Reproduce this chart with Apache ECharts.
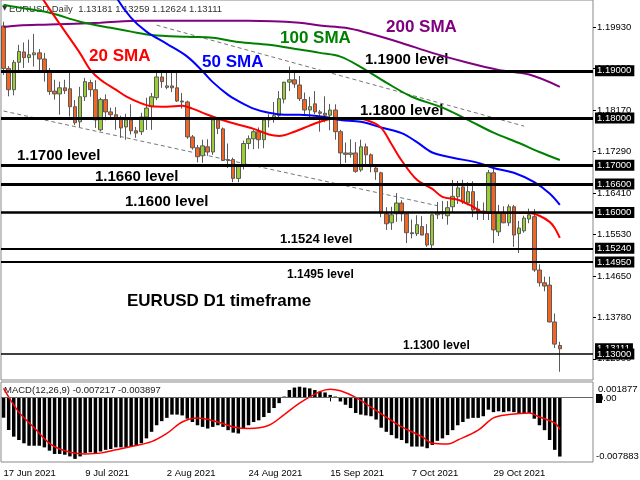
<!DOCTYPE html>
<html><head><meta charset="utf-8">
<script src="https://cdn.jsdelivr.net/npm/echarts@6/dist/echarts.min.js"></script>
<style>html,body{margin:0;padding:0;background:#fff}#c{width:640px;height:480px}</style>
</head><body><div id="c"></div>
<script>
// ---- data ----
const opens = [1.1995,1.1905,1.1860,1.1918,1.1940,1.1928,1.1934,1.1938,1.1925,1.1898,
1.1857,1.1851,1.1864,1.1862,1.1824,1.1792,1.1845,1.1875,1.1860,1.1775,
1.1839,1.1813,1.1807,1.1800,1.1781,1.1796,1.1773,1.1771,1.1802,1.1824,
1.1843,1.1887,1.1865,1.1868,1.1864,1.1836,1.1834,1.1760,1.1737,1.1720,
1.1739,1.1728,1.1796,1.1777,1.1710,1.1712,1.1672,1.1699,1.1746,1.1756,
1.1771,1.1754,1.1796,1.1797,1.1805,1.1840,1.1876,1.1881,1.1870,1.1839,
1.1817,1.1830,1.1813,1.1810,1.1806,1.1817,1.1771,1.1726,1.1723,1.1726,
1.1690,1.1739,1.1722,1.1694,1.1684,1.1597,1.1578,1.1597,1.1620,1.1597,
1.1557,1.1555,1.1570,1.1555,1.1531,1.1595,1.1601,1.1593,1.1612,1.1633,
1.1654,1.1620,1.1644,1.1607,1.1601,1.1600,1.1684,1.1559,1.1599,1.1578,
1.1612,1.1555,1.1561,1.1586,1.1591,1.1478,1.1451,1.1446,1.1368,1.13181];
const highs = [1.2004,1.1910,1.1923,1.1955,1.1960,1.1966,1.1978,1.1946,1.1938,1.1906,
1.1881,1.1877,1.1881,1.1896,1.1838,1.1866,1.1885,1.1881,1.1880,1.1843,
1.1850,1.1822,1.1823,1.1805,1.1809,1.1829,1.1781,1.1811,1.1843,1.1853,
1.1902,1.1902,1.1898,1.1898,1.1900,1.1853,1.1837,1.1764,1.1743,1.1754,
1.1755,1.1802,1.1800,1.1780,1.1746,1.1716,1.1702,1.1752,1.1763,1.1775,
1.1780,1.1802,1.1808,1.1834,1.1857,1.1874,1.1909,1.1896,1.1889,1.1854,
1.1845,1.1857,1.1817,1.1846,1.1830,1.1829,1.1775,1.1748,1.1755,1.1749,
1.1754,1.1746,1.1725,1.1702,1.1686,1.1611,1.1612,1.1641,1.1626,1.1601,
1.1585,1.1594,1.1592,1.1575,1.1596,1.1622,1.1624,1.1624,1.1669,1.1667,
1.1669,1.1664,1.1666,1.1624,1.1621,1.1690,1.1692,1.1616,1.1613,1.1617,
1.1616,1.1582,1.1593,1.1608,1.1607,1.1490,1.1464,1.1464,1.1386,1.13259];
const lows = [1.1891,1.1846,1.1848,1.1895,1.1906,1.1917,1.1909,1.1900,1.1877,1.1849,
1.1839,1.1807,1.1851,1.1803,1.1785,1.1781,1.1836,1.1845,1.1779,1.1772,
1.1795,1.1800,1.1775,1.1758,1.1754,1.1765,1.1758,1.1764,1.1775,1.1775,
1.1838,1.1864,1.1861,1.1855,1.1834,1.1820,1.1756,1.1733,1.1706,1.1705,
1.1720,1.1722,1.1766,1.1709,1.1694,1.1664,1.1664,1.1691,1.1734,1.1734,
1.1735,1.1736,1.1780,1.1790,1.1801,1.1831,1.1857,1.1864,1.1836,1.1806,
1.1802,1.1808,1.1771,1.1791,1.1774,1.1754,1.1700,1.1705,1.1716,1.1684,
1.1686,1.1699,1.1685,1.1669,1.1590,1.1563,1.1563,1.1580,1.1581,1.1535,
1.1545,1.1550,1.1553,1.1527,1.1524,1.1586,1.1586,1.1574,1.1601,1.1618,
1.1618,1.1615,1.1590,1.1584,1.1584,1.1584,1.1535,1.1550,1.1577,1.1571,
1.1527,1.1514,1.1557,1.1577,1.1474,1.1443,1.1433,1.1367,1.1313,1.12624];
const closes = [1.1905,1.1860,1.1918,1.1941,1.1928,1.1934,1.1938,1.1925,1.1898,1.1856,
1.1851,1.1864,1.1858,1.1824,1.1790,1.1845,1.1877,1.1860,1.1796,1.1839,
1.1813,1.1807,1.1798,1.1779,1.1796,1.1773,1.1768,1.1802,1.1821,1.1845,
1.1887,1.1877,1.1868,1.1864,1.1836,1.1834,1.1760,1.1737,1.1718,1.1741,
1.1728,1.1796,1.1778,1.1710,1.1712,1.1672,1.1699,1.1746,1.1756,1.1771,
1.1754,1.1796,1.1797,1.1805,1.1841,1.1876,1.1881,1.1872,1.1841,1.1817,
1.1824,1.1813,1.1810,1.1806,1.1817,1.1771,1.1726,1.1723,1.1726,1.1687,
1.1739,1.1722,1.1697,1.1686,1.1599,1.1576,1.1595,1.1620,1.1597,1.1557,
1.1555,1.1574,1.1552,1.1531,1.1595,1.1599,1.1597,1.1610,1.1634,1.1652,
1.1622,1.1644,1.1605,1.1601,1.1603,1.1684,1.1563,1.1599,1.1578,1.1612,
1.1552,1.1567,1.1588,1.1595,1.1478,1.1451,1.1444,1.1368,1.1321,1.13111];

// moving averages, read as [bar index, value]
const sma20 = [[0,1.2165],[4,1.2115],[8,1.2047],[12,1.1984],[15,1.1937],[17,1.1902],[19,1.1881],[22,1.1860],[24,1.1846],[27,1.1831],[29,1.1825],[32,1.1824],[35,1.1826],[37,1.1820],[40,1.1807],[44,1.1792],[49,1.1777],[52,1.1765],[54,1.1762],[57,1.1771],[60,1.1784],[62,1.1792],[64,1.1798],[69,1.1800],[72,1.1792],[74,1.1779],[76,1.1745],[78,1.1710],[81,1.1669],[84,1.1650],[86,1.1633],[89,1.1627],[92,1.1612],[94,1.1600],[96,1.1599],[103,1.1599],[105,1.1593],[107,1.1580],[108,1.1567],[109,1.1546]];
const sma50 = [[20,1.2110],[22,1.2058],[25,1.2012],[28,1.1983],[32,1.1957],[36,1.1930],[39,1.1899],[41,1.1876],[44,1.1849],[46,1.1836],[49,1.1820],[52,1.1811],[55,1.1807],[58,1.1807],[63,1.1802],[66,1.1796],[70,1.1792],[74,1.1780],[78,1.1768],[81,1.1749],[84,1.1727],[88,1.1716],[93,1.1705],[96,1.1694],[100,1.1684],[104,1.1664],[107,1.1640],[109,1.1616]];
const sma100 = [[0,1.2040],[3,1.2034],[9,1.2023],[15,1.2004],[21,1.1991],[25,1.1983],[29,1.1976],[36,1.1972],[41,1.1970],[46,1.1961],[52,1.1955],[58,1.1945],[62,1.1938],[66,1.1930],[70,1.1908],[75,1.1875],[80,1.1845],[86,1.1822],[91,1.1796],[96,1.1769],[101,1.1747],[105,1.1728],[109,1.1711]];
const sma200 = [[0,1.1993],[3,1.1996],[9,1.1998],[19,1.2002],[27,1.2006],[39,1.2006],[48,1.2006],[58,1.2002],[62,1.1996],[67,1.1991],[71,1.1981],[78,1.1959],[84,1.1938],[91,1.1917],[97,1.1902],[103,1.1892],[109,1.1866]];

// trend lines [bar index, price]
const trendUpper = [[30,1.19967],[102,1.17828]];
const trendLower = [[0,1.18148],[85,1.16142]];

// horizontal levels and their widths (style)
const levels = [1.19, 1.18, 1.17, 1.166, 1.16, 1.1524, 1.1495, 1.13];
const levelWidths = [3, 3, 3, 3, 2.5, 2, 2, 1.5];
const lastPrice = 1.13111;

// MACD main (histogram) and signal
const macdHist = [-0.00248,-0.00398,-0.00479,-0.0052,-0.0056,-0.0059,-0.0059,-0.0059,-0.0061,-0.0065,
-0.0069,-0.0069,-0.0070,-0.0072,-0.0075,-0.0072,-0.0068,-0.0067,-0.0068,-0.0066,
-0.0064,-0.0063,-0.0061,-0.0061,-0.0061,-0.0060,-0.0059,-0.0056,-0.0050,-0.0042,
-0.0034,-0.0029,-0.0025,-0.0021,-0.0021,-0.0022,-0.0026,-0.0030,-0.0034,-0.0036,
-0.0038,-0.0036,-0.0034,-0.0036,-0.0040,-0.0043,-0.0044,-0.0038,-0.0034,-0.0030,
-0.0028,-0.0024,-0.0019,-0.0013,-0.0007,0.0001,0.0009,0.0012,0.0013,0.0012,
0.0011,0.0009,0.0007,0.0006,0.0003,0.0001,-0.0005,-0.0009,-0.0013,-0.0019,
-0.0021,-0.0022,-0.0023,-0.0027,-0.0037,-0.0042,-0.0046,-0.0050,-0.0052,-0.0056,
-0.0060,-0.0060,-0.0060,-0.0062,-0.0058,-0.0053,-0.0050,-0.0046,-0.0040,-0.0034,
-0.0030,-0.0026,-0.0025,-0.0025,-0.0023,-0.0015,-0.0018,-0.0017,-0.0018,-0.0017,
-0.0018,-0.0020,-0.0019,-0.0019,-0.0026,-0.0034,-0.0040,-0.0052,-0.0064,-0.007217];
const macdSignal = [[0,0.0011],[3,-0.0018],[6,-0.0037],[9,-0.0056],[12,-0.0065],[16,-0.0069],[19,-0.0068],[22,-0.0064],[25,-0.0060],[29,-0.0054],[32,-0.0044],[35,-0.0030],[38,-0.0025],[42,-0.0030],[45,-0.0036],[48,-0.0038],[52,-0.0034],[55,-0.0021],[58,-0.0007],[62,0.0007],[64,0.0010],[66,0.0008],[69,0.0000],[72,-0.0012],[75,-0.0024],[78,-0.0036],[82,-0.0048],[84,-0.0056],[87,-0.0057],[89,-0.0052],[93,-0.0040],[96,-0.0025],[99,-0.0021],[103,-0.0019],[105,-0.0024],[108,-0.0031],[109,-0.0039]];

// axis tick labels
const xTickLabels = ['17 Jun 2021','9 Jul 2021','2 Aug 2021','24 Aug 2021','15 Sep 2021','7 Oct 2021','29 Oct 2021'];
const priceTicks = [1.1993,1.1905,1.1817,1.1729,1.1641,1.1553,1.1465,1.1378,1.1290];
const macdMax = 0.001877, macdMin = -0.007883;

// trading-day categories (weekdays from 17 Jun 2021, incl. empty right margin)
const months = ['Jan','Feb','Mar','Apr','May','Jun','Jul','Aug','Sep','Oct','Nov','Dec'];
const categories = [];
(function(){ const d = new Date(2021,5,17);
  while (categories.length < 116) { const w = d.getDay();
    if (w !== 0 && w !== 6) categories.push(d.getDate()+' '+months[d.getMonth()]+' '+d.getFullYear());
    d.setDate(d.getDate()+1); } })();

const candles = opens.map((o,i)=>[o, closes[i], lows[i], highs[i]]);

function boxLabel(v){
  return {show:true, position:'end', distance:2, color:'#fff', backgroundColor:'#000',
    padding:[1,3,0,2], fontSize:9.5, fontFamily:'Liberation Sans', formatter:()=>v.toFixed(5)};
}
// one helper series per level, each carrying its own markLine
function levelSeries(v, w, hidden){
  return {type:'line', name:'L'+v, xAxisIndex:0, yAxisIndex:0, data:[], z:hidden?5:6,
    markLine:{silent:true, symbol:['none','none'], animation:false, precision:5,
      data:[{yAxis:v, lineStyle:{color:hidden?'rgba(0,0,0,0)':'#000', width:w, type:'solid'}, label:boxLabel(v)}]}};
}

function txt(t, x, y, size, color, bold){
  return {type:'text', z:0, x:x, y:y, silent:true,
    style:{text:t, fill:color, font:(bold?'bold ':'')+size+'px "Liberation Sans", Arial, sans-serif', verticalAlign:'middle'}};
}

const series = [
  {type:'candlestick', name:'EURUSD', xAxisIndex:0, yAxisIndex:0, data:candles, barWidth:4,
    itemStyle:{color:'#9acd32', color0:'#f26522', borderColor:'#5a5a5a', borderColor0:'#5a5a5a', borderWidth:1}, z:3},
  {type:'line', name:'trendU', data:trendUpper, symbol:'none', xAxisIndex:0, yAxisIndex:0,
    lineStyle:{color:'#777', width:1, type:[4,3]}, z:2},
  {type:'line', name:'trendL', data:trendLower, symbol:'none', xAxisIndex:0, yAxisIndex:0,
    lineStyle:{color:'#777', width:1, type:[4,3]}, z:2},
  {type:'line', name:'SMA200', data:sma200, symbol:'none', smooth:0.35, lineStyle:{color:'#800080', width:2}, z:4},
  {type:'line', name:'SMA100', data:sma100, symbol:'none', smooth:0.35, lineStyle:{color:'#008000', width:2}, z:4},
  {type:'line', name:'SMA50', data:sma50, symbol:'none', smooth:0.35, lineStyle:{color:'#0000ff', width:2}, z:4},
  {type:'line', name:'SMA20', data:sma20, symbol:'none', smooth:0.35, lineStyle:{color:'#ff0000', width:2}, z:4},
  {type:'bar', name:'MACD', xAxisIndex:1, yAxisIndex:1, data:macdHist, barWidth:'68%',
    itemStyle:{color:'#000'},
    markLine:{silent:true, symbol:['none','none'], label:{show:false},
      data:[{yAxis:0, lineStyle:{color:'#666', width:1, type:'solid'}}]}},
  {type:'line', name:'Signal', xAxisIndex:1, yAxisIndex:1, data:macdSignal, symbol:'none', smooth:0.35,
    lineStyle:{color:'#ff0000', width:1.5}, z:4},
  levelSeries(lastPrice, 1, true)
];
levels.forEach((v,i)=> series.push(levelSeries(v, levelWidths[i], false)));

const chart = echarts.init(document.getElementById('c'), null, {renderer:'canvas'});
chart.setOption({
  animation:false,
  backgroundColor:'#fff',
  textStyle:{fontFamily:'Liberation Sans'},
  grid:[
    {left:1, right:47, top:0, height:380, show:true, borderColor:'#888', borderWidth:1},
    {left:1, right:47, top:382, height:80, show:true, borderColor:'#888', borderWidth:1}
  ],
  xAxis:[
    {type:'category', gridIndex:0, data:categories, boundaryGap:true, show:false},
    {type:'category', gridIndex:1, data:categories, boundaryGap:true,
      axisLine:{show:false},
      axisTick:{show:true, alignWithLabel:true, length:4, lineStyle:{color:'#000'},
        interval:(i)=> i%16===0 && i/16 < xTickLabels.length},
      axisLabel:{show:true, align:'left', margin:6, fontSize:9.5, color:'#000',
        interval:(i)=> i%16===0 && i/16 < xTickLabels.length,
        formatter:(v,i)=> xTickLabels[i/16] || ''}}
  ],
  yAxis:[
    {type:'value', gridIndex:0, position:'right', min:1.1245, max:1.2050, scale:true,
      splitLine:{show:false}, axisLine:{show:false},
      axisTick:{show:true, length:3, lineStyle:{color:'#000'}, customValues:priceTicks},
      axisLabel:{show:true, fontSize:9.5, color:'#000', margin:4, customValues:priceTicks,
        formatter:(v)=> v.toFixed(5)}},
    {type:'value', gridIndex:1, position:'right', min:macdMin, max:macdMax,
      splitLine:{show:false}, axisLine:{show:false}, axisTick:{show:false}, axisLabel:{show:false}}
  ],
  series: series,
  graphic:[
    {type:'text', z:0, x:2, y:8, silent:true, style:{text:'\u25BC', fill:'#333', font:'7px "DejaVu Sans"', verticalAlign:'middle'}},
    txt('EURUSD,Daily  1.13181 1.13259 1.12624 1.13111', 9, 9, 9.5, '#333', false),
    txt('MACD(12,26,9) -0.007217 -0.003897', 4, 390, 9.5, '#222', false),
    txt('20 SMA', 89, 56, 17, '#ff0000', true),
    txt('50 SMA', 202, 62, 17, '#0000ff', true),
    txt('100 SMA', 280, 38, 17, '#008000', true),
    txt('200 SMA', 386, 27, 17, '#800080', true),
    txt('1.1900 level', 365, 60, 15, '#000', true),
    txt('1.1800 level', 360, 111, 15, '#000', true),
    txt('1.1700 level', 17, 156, 15, '#000', true),
    txt('1.1660 level', 95, 177, 15, '#000', true),
    txt('1.1600 level', 125, 202, 15, '#000', true),
    txt('1.1524 level', 280, 239, 13, '#000', true),
    txt('1.1495 level', 287, 275, 12, '#000', true),
    txt('EURUSD D1 timeframe', 127, 301, 17, '#000', true),
    txt('1.1300 level', 403, 346, 12, '#000', true),
    txt('0.001877', 598, 389, 9.5, '#000', false),
    {type:'rect', z:0, silent:true, shape:{x:596, y:394, width:6, height:9}, style:{fill:'#000'}},
    txt('0.00', 598, 398.5, 9.5, '#000', false),
    txt('-0.007883', 596, 456, 9.5, '#000', false)
  ]
});
</script></body></html>
